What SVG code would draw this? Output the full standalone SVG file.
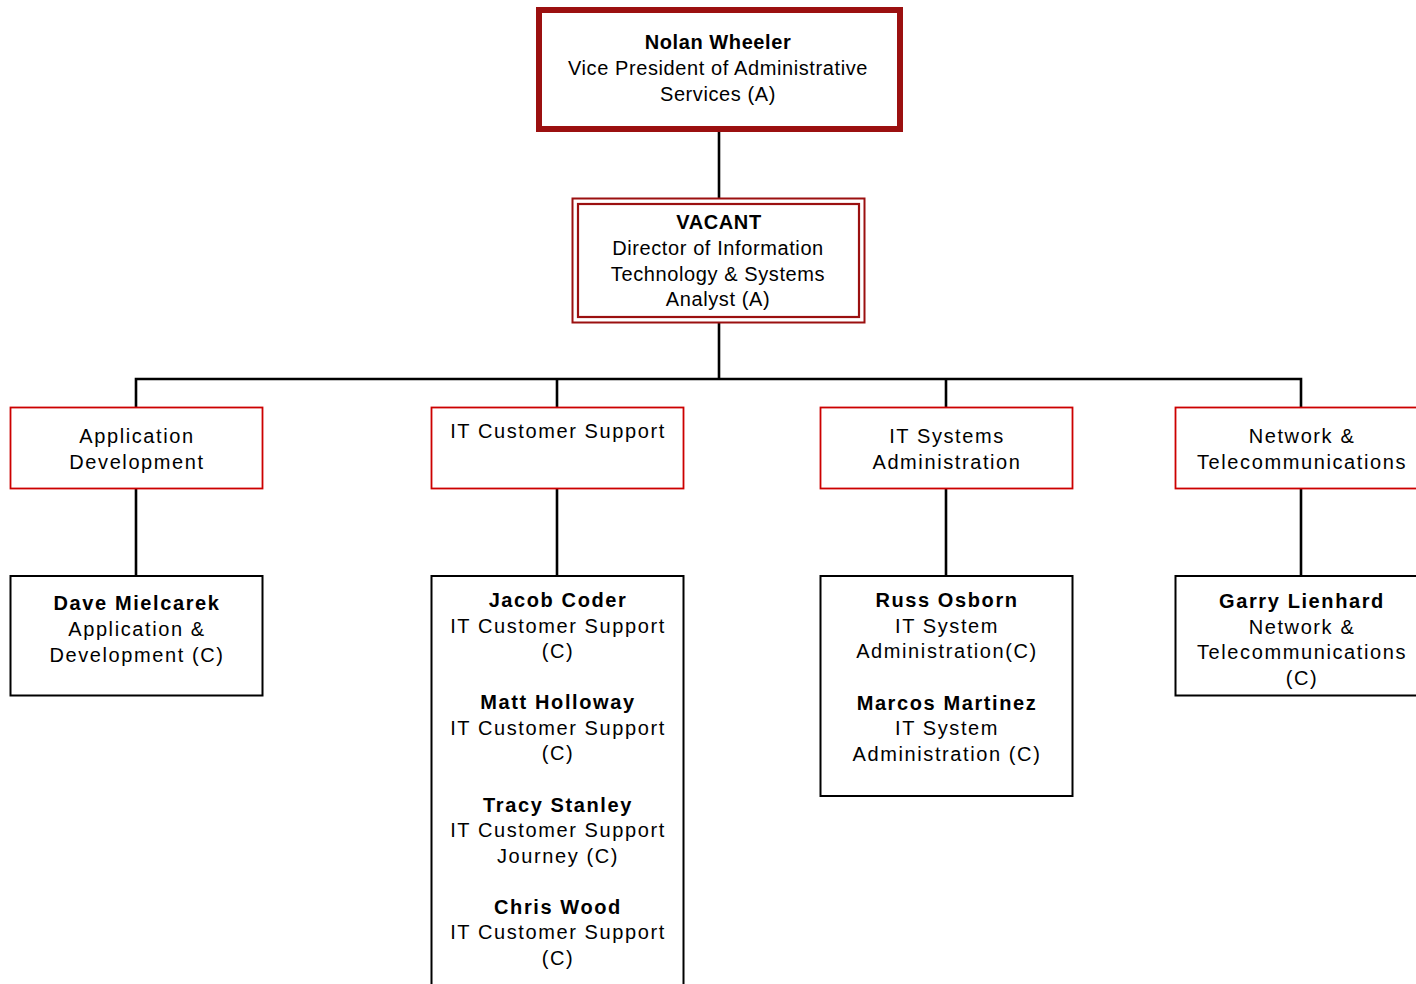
<svg xmlns="http://www.w3.org/2000/svg" width="1416" height="984" viewBox="0 0 1416 984">
<style>
text{font-family:"Liberation Sans",Arial,sans-serif;font-size:20px;fill:#000;text-anchor:middle}
.t{letter-spacing:0.6px}
.l{letter-spacing:1.6px}
.b{font-weight:bold}
.dept{fill:#fff;stroke:#CC0000;stroke-width:1.8}
.emp{fill:#fff;stroke:#000;stroke-width:2}
.con{fill:none;stroke:#000;stroke-width:2.6}
</style>
<rect width="1416" height="984" fill="#fff"/>
<g id="connectors">
<path class="con" d="M719 130V198"/>
<path class="con" d="M719 323V379" stroke-width="3"/>
<path class="con" d="M136 407V379H1301V407M557 379V407M946 379V407"/>
<path class="con" d="M136 489V576M557 489V576M946 489V576M1301 489V576"/>
</g>
<g id="n-nolan">
<rect x="539" y="10" width="361" height="119" fill="#fff" stroke="#9B1010" stroke-width="6"/>
<text class="t b" x="718" y="49">Nolan Wheeler</text>
<text class="t" x="718" y="75">Vice President of Administrative</text>
<text class="t" x="718" y="101">Services (A)</text>
</g>
<g id="n-vacant">
<rect x="572.5" y="198.5" width="292" height="124" fill="#fff" stroke="#9B1010" stroke-width="2"/>
<rect x="578" y="204" width="281" height="113" fill="none" stroke="#9B1010" stroke-width="2.2"/>
<text class="t b" x="719" y="229">VACANT</text>
<text class="t" x="718" y="255">Director of Information</text>
<text class="t" x="718" y="281">Technology &amp; Systems</text>
<text class="t" x="718" y="306">Analyst (A)</text>
</g>
<g id="d-appdev">
<rect class="dept" x="10.5" y="407.5" width="252" height="81"/>
<text class="l" x="137" y="443">Application</text>
<text class="l" x="137" y="469">Development</text>
</g>
<g id="d-itcs">
<rect class="dept" x="431.5" y="407.5" width="252" height="81"/>
<text class="l" x="558" y="438">IT Customer Support</text>
</g>
<g id="d-itsa">
<rect class="dept" x="820.5" y="407.5" width="252" height="81"/>
<text class="l" x="947" y="443">IT Systems</text>
<text class="l" x="947" y="469">Administration</text>
</g>
<g id="d-net">
<rect class="dept" x="1175.5" y="407.5" width="252" height="81"/>
<text class="l" x="1302" y="443">Network &amp;</text>
<text class="l" x="1302" y="469">Telecommunications</text>
</g>
<g id="e-dave">
<rect class="emp" x="10.5" y="576" width="252" height="119.5"/>
<text class="l b" x="137" y="610">Dave Mielcarek</text>
<text class="l" x="137" y="636">Application &amp;</text>
<text class="l" x="137" y="662">Development (C)</text>
</g>
<g id="e-itcs">
<rect class="emp" x="431.5" y="576" width="252" height="420"/>
<text class="l b" x="558" y="607">Jacob Coder</text>
<text class="l" x="558" y="633">IT Customer Support</text>
<text class="l" x="558" y="658">(C)</text>
<text class="l b" x="558" y="709">Matt Holloway</text>
<text class="l" x="558" y="735">IT Customer Support</text>
<text class="l" x="558" y="760">(C)</text>
<text class="l b" x="558" y="812">Tracy Stanley</text>
<text class="l" x="558" y="837">IT Customer Support</text>
<text class="l" x="558" y="863">Journey (C)</text>
<text class="l b" x="558" y="914">Chris Wood</text>
<text class="l" x="558" y="939">IT Customer Support</text>
<text class="l" x="558" y="965">(C)</text>
</g>
<g id="e-itsa">
<rect class="emp" x="820.5" y="576" width="252" height="220"/>
<text class="l b" x="947" y="607">Russ Osborn</text>
<text class="l" x="947" y="633">IT System</text>
<text class="l" x="947" y="658">Administration(C)</text>
<text class="l b" x="947" y="710">Marcos Martinez</text>
<text class="l" x="947" y="735">IT System</text>
<text class="l" x="947" y="761">Administration (C)</text>
</g>
<g id="e-net">
<rect class="emp" x="1175.5" y="576" width="252" height="119.5"/>
<text class="l b" x="1302" y="608">Garry Lienhard</text>
<text class="l" x="1302" y="634">Network &amp;</text>
<text class="l" x="1302" y="659">Telecommunications</text>
<text class="l" x="1302" y="685">(C)</text>
</g>
</svg>
